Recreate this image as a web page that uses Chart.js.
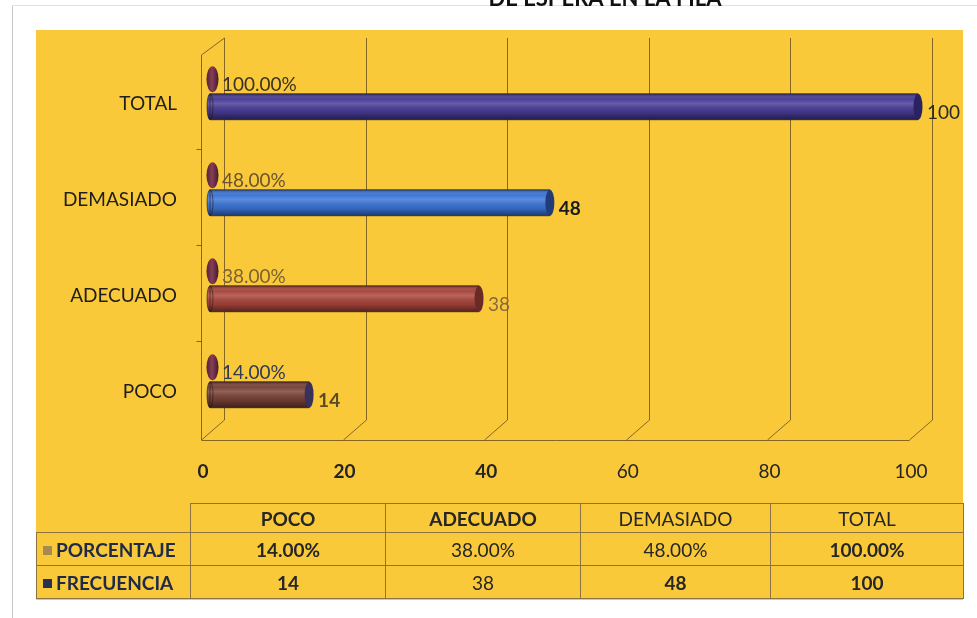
<!DOCTYPE html>
<html>
<head>
<meta charset="utf-8">
<script src="https://cdn.jsdelivr.net/npm/chart.js@4.4.0/dist/chart.umd.min.js"></script>
<style>
  html, body { margin: 0; padding: 0; background: #fff; }
  #wrap { position: relative; width: 977px; height: 618px; overflow: hidden; font-family: Lato, 'Open Sans', sans-serif; }
  #frame { position: absolute; left: 12px; top: 5px; width: 980px; height: 620px; border-left: 1px solid #c9c9c9; border-top: 1px solid #e2e2e2; }
  #panel { position: absolute; left: 36px; top: 30px; width: 927px; height: 570px; background: #f9c93a; }
  #chart { position: absolute; left: 0; top: 0; }
  #tbl { position: absolute; left: 36px; top: 503px; border-collapse: collapse; table-layout: fixed; color: #262626; font-size: 19px; }
  #tbl td { border: 1px solid #8c7442; text-align: center; padding: 0; }
  #tbl tr.head td { height: 28px; }
  #tbl tr.row td { height: 32px; }
  #tbl td.blank { border: none; border-right: 1px solid #8c7442; }
  #tbl td.lab { text-align: left; padding-left: 6px; font-weight: bold; color: #1f2a48; }
  .sw { display: inline-block; width: 9px; height: 9px; margin-right: 4px; vertical-align: 2px; }
</style>
</head>
<body>
<div id="wrap">
  <div id="frame"></div>
  <div id="panel"></div>
  <canvas id="chart" width="977" height="618"></canvas>
  <table id="tbl"></table>
</div>
<script>
const categories = ['POCO', 'ADECUADO', 'DEMASIADO', 'TOTAL'];
const porcentaje = [0.14, 0.38, 0.48, 1.00];
const frecuencia = [14, 38, 48, 100];
const xTicks = [0, 20, 40, 60, 80, 100];
const seriesNames = ['PORCENTAJE', 'FRECUENCIA'];
const titleText = 'DE ESPERA EN LA FILA';

const FONT = 'Lato, "Open Sans", sans-serif';
const barColors = ['#784036', '#a8443a', '#3a74d6', '#463a96'];
const capColors = ['#38325a', '#6a2a28', '#223c7a', '#2b2262'];
const swatches = ['#a88a50', '#2a3050'];
const pctLabelColors = ['#2f3a55', '#7d6234', '#6b5430', '#3a3222'];
const freqLabelColors = ['#5c4a26', '#8a6a3a', '#1a1a1a', '#2a2a2a'];
const freqLabelBold = [true, false, true, false];

const fmtPct = v => (v * 100).toFixed(2) + '%';

// back wall grid, floor and left wall of the 3D box
const wall = {
  id: 'wall',
  beforeDatasetsDraw(chart) {
    const { ctx, chartArea: a, scales: { x, y } } = chart;
    const back = 14, front = -9;
    const backTop = a.top - 7, backBottom = a.bottom - 9, frontBottom = a.bottom + 11;
    ctx.save();
    ctx.strokeStyle = 'rgba(105, 78, 30, 0.8)';
    ctx.lineWidth = 1;
    xTicks.forEach(v => {
      const px = Math.round(x.getPixelForValue(v)) + 0.5;
      ctx.beginPath();
      ctx.moveTo(px + back, backTop);
      ctx.lineTo(px + back, backBottom);
      ctx.lineTo(px + front, frontBottom);
      ctx.stroke();
    });
    const x0 = Math.round(x.getPixelForValue(0)) + 0.5;
    const x1 = Math.round(x.getPixelForValue(100)) + 0.5;
    ctx.beginPath();
    ctx.moveTo(x0 + front, frontBottom + 0.5);
    ctx.lineTo(x1 + front, frontBottom + 0.5);
    ctx.moveTo(x0 + front, frontBottom);
    ctx.lineTo(x0 + front, a.top + 10);
    ctx.lineTo(x0 + back, backTop);
    // small ticks between categories on the left wall
    for (let i = 0; i < categories.length - 1; i++) {
      const ty = Math.round((y.getPixelForValue(i) + y.getPixelForValue(i + 1)) / 2) + 8.5;
      ctx.moveTo(x0 + front - 5, ty);
      ctx.lineTo(x0 + front, ty);
    }
    ctx.stroke();
    ctx.restore();
  }
};

// cylinder look for the bars plus value labels
const cylinders = {
  id: 'cylinders',
  afterDatasetsDraw(chart) {
    const ctx = chart.ctx;
    chart.data.datasets.forEach((ds, di) => {
      chart.getDatasetMeta(di).data.forEach((bar, i) => {
        const { x, y, base, height } = bar.getProps(['x', 'y', 'base', 'height'], true);
        const top = y - height / 2;
        ctx.save();
        if (di === 0) {
          const cx = base + 2.5;
          const g = ctx.createLinearGradient(cx - 6, 0, cx + 6, 0);
          g.addColorStop(0, '#4a2238');
          g.addColorStop(0.45, '#8a3d55');
          g.addColorStop(1, '#3c1c30');
          ctx.fillStyle = g;
          ctx.beginPath();
          ctx.ellipse(cx, y, 6, height / 2, 0, 0, Math.PI * 2);
          ctx.fill();
          ctx.font = '19px ' + FONT;
          ctx.fillStyle = pctLabelColors[i];
          ctx.textBaseline = 'middle';
          ctx.fillText(fmtPct(ds.data[i]), base + 12, y + 6);
        } else {
          const body = () => {
            ctx.beginPath();
            ctx.ellipse(base, y, 3, height / 2, 0, 0, Math.PI * 2);
            ctx.rect(base, top, x - base, height);
          };
          ctx.fillStyle = barColors[i];
          body();
          ctx.fill();
          const g = ctx.createLinearGradient(0, top, 0, top + height);
          g.addColorStop(0, 'rgba(0,0,0,0.4)');
          g.addColorStop(0.2, 'rgba(255,255,255,0.02)');
          g.addColorStop(0.38, 'rgba(255,255,255,0.18)');
          g.addColorStop(0.7, 'rgba(0,0,0,0.08)');
          g.addColorStop(1, 'rgba(0,0,0,0.5)');
          ctx.fillStyle = g;
          body();
          ctx.fill();
          ctx.strokeStyle = 'rgba(40,25,25,0.6)';
          ctx.lineWidth = 1;
          body();
          ctx.stroke();
          ctx.fillStyle = capColors[i];
          ctx.beginPath();
          ctx.ellipse(x, y, 4.5, height / 2, 0, 0, Math.PI * 2);
          ctx.fill();
          ctx.font = (freqLabelBold[i] ? 'bold ' : '') + '19px ' + FONT;
          ctx.fillStyle = freqLabelColors[i];
          ctx.textBaseline = 'middle';
          ctx.fillText(String(ds.data[i]), x + 9, y + 6);
        }
        ctx.restore();
      });
    });
  },
  afterDraw(chart) {
    const ctx = chart.ctx;
    ctx.save();
    ctx.font = 'bold 22px ' + FONT;
    ctx.fillStyle = '#111';
    ctx.textAlign = 'center';
    ctx.textBaseline = 'alphabetic';
    ctx.fillText(titleText, 605, 6);
    ctx.restore();
  }
};

new Chart(document.getElementById('chart'), {
  type: 'bar',
  plugins: [wall, cylinders],
  data: {
    labels: categories,
    datasets: [{
      label: seriesNames[0],
      data: porcentaje,
      backgroundColor: 'rgba(0,0,0,0)',
      categoryPercentage: 0.574,
      barPercentage: 0.945
    }, {
      label: seriesNames[1],
      data: frecuencia,
      backgroundColor: 'rgba(0,0,0,0)',
      categoryPercentage: 0.574,
      barPercentage: 0.945
    }]
  },
  options: {
    indexAxis: 'y',
    responsive: false,
    animation: false,
    layout: {
      padding: { top: 45, right: 59, left: 0, bottom: 0 }
    },
    scales: {
      x: {
        min: 0,
        max: 100,
        afterFit: s => { s.height = 618 - 429; },
        afterBuildTicks: s => { s.ticks = xTicks.map(v => ({ value: v })); },
        border: { display: false },
        grid: { display: false, drawTicks: false },
        ticks: {
          padding: 31,
          labelOffset: -7,
          color: '#242424',
          font: ctx => ({ family: FONT, size: 19, weight: ctx.index < 3 ? 'bold' : 'normal' })
        }
      },
      y: {
        reverse: true,
        afterFit: s => { s.width = 210; },
        border: { display: false },
        grid: { display: false, drawTicks: false },
        ticks: {
          padding: 33,
          labelOffset: 11,
          color: '#1e1e1e',
          font: { family: FONT, size: 19 }
        }
      }
    },
    plugins: {
      legend: { display: false },
      tooltip: { enabled: false }
    }
  }
});

// data table under the chart
const headBold = [true, true, false, false];
const pctBold = [true, false, false, true];
const freqBold = [true, false, true, true];
const colWidths = [154, 195, 195, 190, 193];
const tbl = document.getElementById('tbl');
const cg = document.createElement('colgroup');
colWidths.forEach(w => { const c = document.createElement('col'); c.style.width = w + 'px'; cg.appendChild(c); });
tbl.appendChild(cg);
const addRow = (cls, first, cells, bold) => {
  const tr = document.createElement('tr');
  tr.className = cls;
  tr.appendChild(first);
  cells.forEach((t, i) => {
    const td = document.createElement('td');
    td.textContent = t;
    if (bold[i]) td.style.fontWeight = 'bold';
    tr.appendChild(td);
  });
  tbl.appendChild(tr);
};
const blank = document.createElement('td');
blank.className = 'blank';
addRow('head', blank, categories, headBold);
const legendCell = (name, color) => {
  const td = document.createElement('td');
  td.className = 'lab';
  const sw = document.createElement('span');
  sw.className = 'sw';
  sw.style.background = color;
  td.appendChild(sw);
  td.appendChild(document.createTextNode(name));
  return td;
};
addRow('row', legendCell(seriesNames[0], swatches[0]), porcentaje.map(fmtPct), pctBold);
addRow('row', legendCell(seriesNames[1], swatches[1]), frecuencia.map(String), freqBold);
</script>
</body>
</html>
